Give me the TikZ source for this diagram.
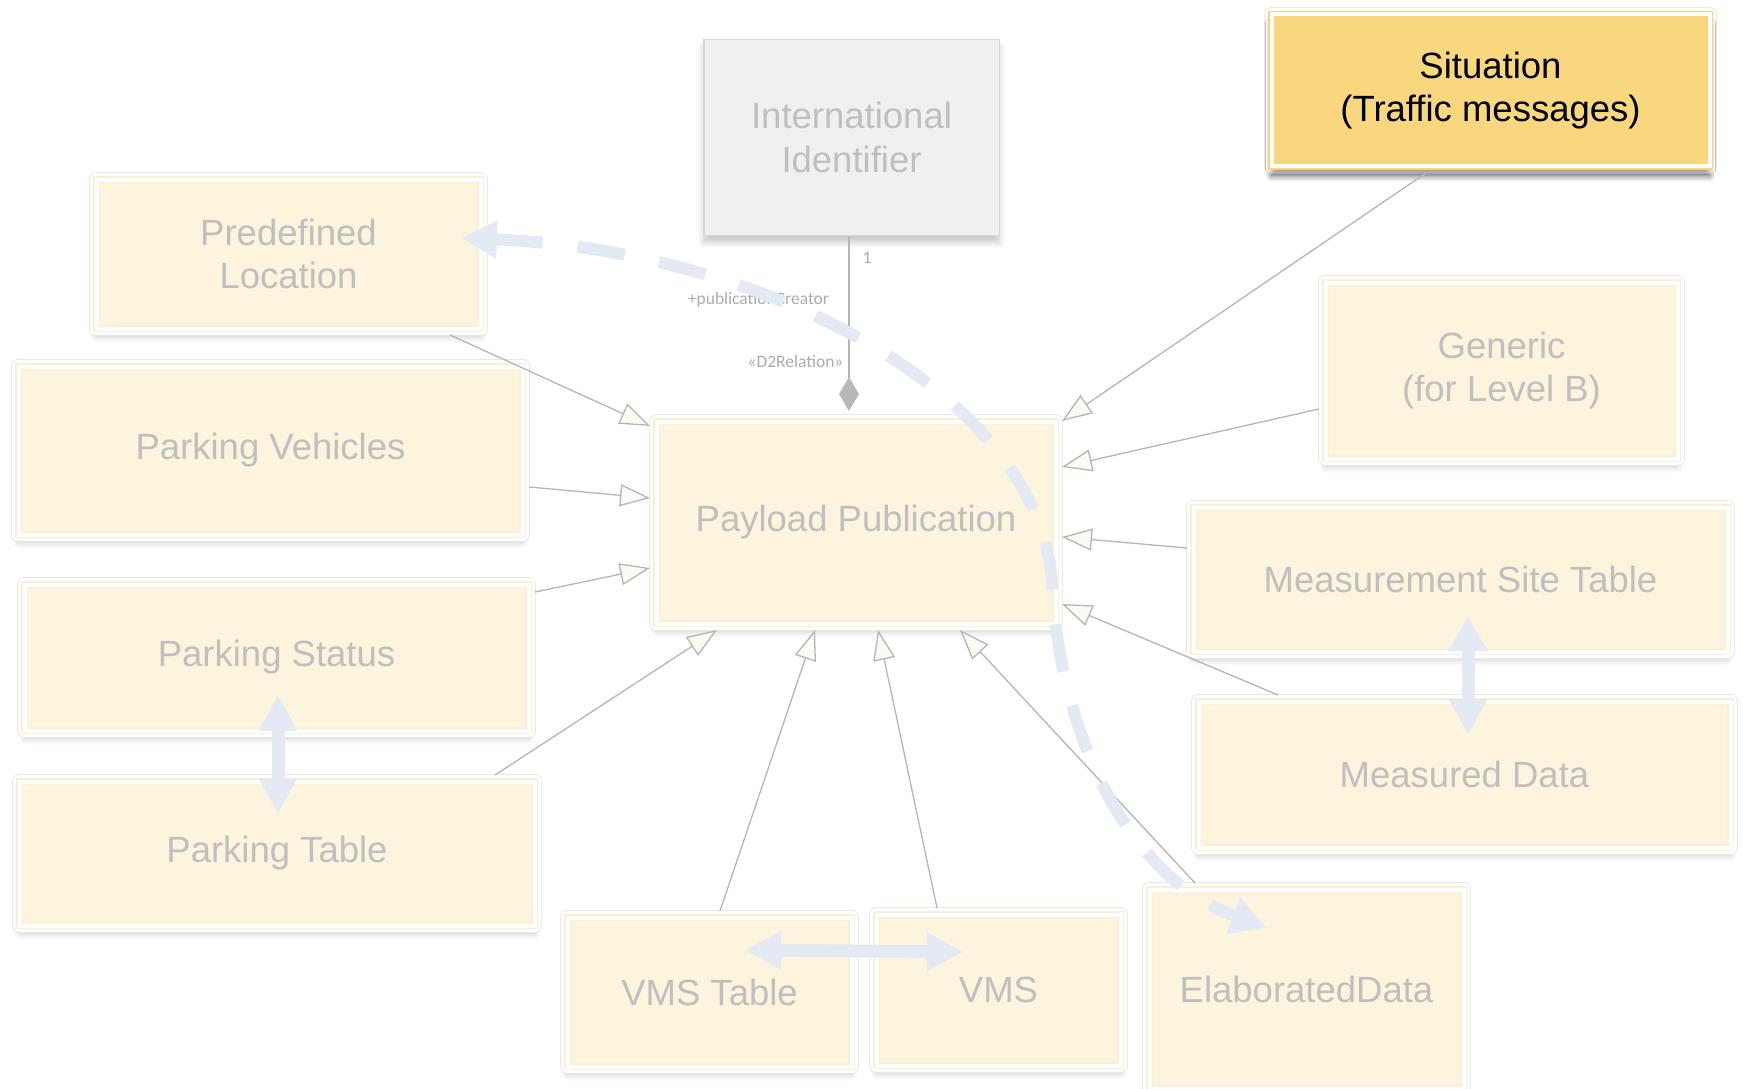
\documentclass[tikz,border=0pt]{standalone}
\usepackage{fontspec}
\setmainfont{Liberation Sans}
\newfontfamily\labelfont{Carlito}
\usetikzlibrary{arrows.meta,shadows.blur}

\definecolor{boxfill}{HTML}{FDF4DE}
\definecolor{boxline}{HTML}{FBF0D6}
\definecolor{boxtext}{HTML}{BFBFBF}
\definecolor{edgegray}{HTML}{E8E8E8}
\definecolor{sitfill}{HTML}{F9D77E}
\definecolor{sitline}{HTML}{F8D578}
\definecolor{idfill}{HTML}{F2F0EF}
\definecolor{idline}{HTML}{DDD5D3}
\definecolor{linkgray}{HTML}{B5B5B5}
\definecolor{tipfill}{HTML}{FDFAF3}
\definecolor{diamondgray}{HTML}{B8B8B8}
\definecolor{flowblue}{HTML}{E3EAF3}
\definecolor{labelgray}{HTML}{ABABAB}

\begin{document}
\begin{tikzpicture}[x=1pt, y=-1pt,
  sized/.style 2 args={minimum width=#1pt, minimum height=#2pt},
  classbox/.style={rectangle, inner sep=0pt, outer sep=6.5pt, align=center,
    font=\fontsize{36.5}{43.5}\selectfont, text=boxtext,
    blur shadow={shadow xshift=0pt, shadow yshift=-8pt, shadow blur radius=6pt, shadow opacity=22},
    preaction={draw=edgegray, line width=14.5pt, line join=round},
    preaction={draw=white, fill=white, line width=13pt, line join=round},
    fill=boxfill, draw=boxline, line width=1.5pt, double=white, double distance=4pt},
  sitbox/.style={classbox, fill=sitfill, draw=sitline, text=black,
    blur shadow={shadow xshift=0pt, shadow yshift=-9pt, shadow blur radius=6pt, shadow opacity=40}},
  idbox/.style={rectangle, inner sep=0pt, outer sep=0.75pt, align=center,
    font=\fontsize{36.5}{43.5}\selectfont, text=boxtext,
    blur shadow={shadow xshift=0pt, shadow yshift=-7pt, shadow blur radius=6pt, shadow opacity=22},
    fill=idfill, draw=idline, line width=1.5pt},
  inherit/.style={draw=linkgray, line width=1.3pt,
    -{Triangle[length=30pt, width=22pt, fill=tipfill]}},
  compose/.style={draw=linkgray, line width=1.3pt,
    -{Diamond[length=34pt, width=20pt, color=diamondgray]}},
  flow/.style={draw=flowblue, line width=13pt,
    {Triangle[length=36pt, width=36pt]}-{Triangle[length=36pt, width=36pt]}},
  trace/.style={draw=flowblue, line width=12pt, dash pattern=on 48pt off 35pt,
    {Triangle[length=36pt, width=36pt]}-{Triangle[length=36pt, width=36pt]}},
  lbl/.style={font=\labelfont\fontsize{17.5}{20}\selectfont, text=labelgray, inner sep=0pt}
]
\useasboundingbox (0,0) rectangle (1743,1089);

% classes
\node[sitbox, sized={438}{152}] (sit) at (1490.5,90.5) {Situation\\(Traffic messages)};
\node[idbox, sized={295.5}{195.5}] (ii) at (851.5,137.5) {International\\Identifier};
\node[classbox, sized={384}{149}] (pl) at (288.5,254) {Predefined\\Location};
\node[classbox, sized={504}{168}] (pv) at (270.5,450.5) {Parking Vehicles};
\node[classbox, sized={504}{146}] (ps) at (276.5,657.5) {Parking Status};
\node[classbox, sized={515}{144}] (pt) at (277,853.5) {Parking Table};
\node[classbox, sized={399}{202}] (pp) at (856,522.5) {Payload Publication};
\node[classbox, sized={352}{176}] (generic) at (1501.5,370.5) {Generic\\(for Level B)};
\node[classbox, sized={534}{144}] (mst) at (1460.5,579.5) {Measurement Site Table};
\node[classbox, sized={532}{146}] (md) at (1464.5,774.5) {Measured Data};
\node[classbox, sized={314}{199}] (ed) at (1306.5,989) {ElaboratedData};
\node[classbox, sized={284}{149}] (vt) at (709.5,992) {VMS Table};
\node[classbox, sized={244}{151}] (vms) at (998.5,990) {VMS};

% generalisations into the payload publication
\draw[inherit] ([xshift=161.5pt]pl.south) -- ([yshift=-11pt]pp.north west);
\draw[inherit] ([yshift=-36.5pt]pv.east) -- ([yshift=24.5pt]pp.west);
\draw[inherit] ([yshift=65.5pt]ps.east) -- ([yshift=-45.5pt]pp.west);
\draw[inherit] ([xshift=218pt]pt.north) -- ([xshift=67pt]pp.south west);
\draw[inherit] ([xshift=10.5pt]vt.north) -- ([xshift=-41pt]pp.south);
\draw[inherit] ([xshift=-61.5pt]vms.north) -- ([xshift=22pt]pp.south);
\draw[inherit] ([xshift=52pt]ed.north west) -- ([xshift=104pt]pp.south);
\draw[inherit] ([xshift=86pt]md.north west) -- ([yshift=-81.5pt]pp.east);
\draw[inherit] ([yshift=31.5pt]mst.west) -- ([yshift=-14.5pt]pp.east);
\draw[inherit] ([yshift=-38.5pt]generic.west) -- ([yshift=55.5pt]pp.east);
\draw[inherit] ([xshift=-64.5pt]sit.south) -- ([yshift=-6pt]pp.north east);

% composition with the international identifier
\draw[compose] ([xshift=-2.5pt]ii.south) -- ([xshift=-7pt, yshift=4pt]pp.north);
\node[lbl] (mult) at (867,258) {1};
\node[lbl] (role) at (758.5,300) {+publicationCreator};
\node[lbl] (stereo) at (795.5,361) {«D2Relation»};

% paired tables
\draw[flow] ([xshift=1.5pt, yshift=42pt]ps.south) -- ([xshift=1pt, yshift=-39pt]pt.north);
\draw[flow] ([xshift=7.5pt, yshift=43pt]mst.south) -- ([xshift=3.5pt, yshift=-40pt]md.north);
\draw[flow] ([xshift=-113pt, yshift=42pt]vt.east) -- ([xshift=93pt, yshift=38pt]vms.west);

% location reference of elaborated data
\draw[trace] ([xshift=-26pt, yshift=16pt]pl.east)
  .. controls (760,250) and (1035,390) .. (1052,580)
  .. controls (1056,700) and (1110,870) .. ([xshift=124pt, yshift=-45pt]ed.north west);
\end{tikzpicture}
\end{document}
